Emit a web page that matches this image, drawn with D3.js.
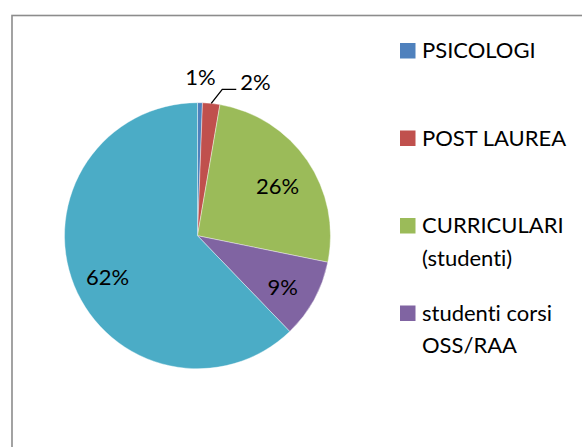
<!DOCTYPE html>
<html>
<head>
<meta charset="utf-8">
<script src="https://cdn.jsdelivr.net/npm/d3@7"></script>
<style>
  html, body { margin: 0; padding: 0; background: #fff; overflow: hidden; }
  text { font-family: Lato, "Open Sans", sans-serif; fill: #000; font-variant-ligatures: none; }
</style>
</head>
<body>
<div class="chart"></div>
<script>
var svgWidth = 582;
var svgHeight = 447;

// data
var categories = ["PSICOLOGI", "POST LAUREA", "CURRICULARI (studenti)", "studenti corsi OSS/RAA", "altro"];
var values = [0.6, 2.1, 25.5, 9.6, 62.2];
var labels = ["1%", "2%", "26%", "9%", "62%"];
var colors = ["#4F81BD", "#C0504D", "#9BBB59", "#8064A2", "#4BACC6"];
// legend lines (only the first four fit in the box)
var legendLines = [["PSICOLOGI"], ["POST LAUREA"], ["CURRICULARI", "(studenti)"], ["studenti corsi", "OSS/RAA"]];

var cx = 197.5, cy = 235.7, radius = 133;

var svg = d3.select(".chart")
  .append("svg")
  .attr("width", svgWidth)
  .attr("height", svgHeight);

// chart frame (right and bottom edges fall outside the picture)
svg.append("rect")
  .attr("x", 12)
  .attr("y", 15.5)
  .attr("width", 620)
  .attr("height", 480)
  .attr("fill", "none")
  .attr("stroke", "#8c8c8c")
  .attr("stroke-width", 1.6);

var pie = d3.pie().sort(null).value(d => d);
var arcs = pie(values);

var arc = d3.arc().innerRadius(0).outerRadius(radius);
var labelArc = d3.arc().innerRadius(radius * 0.73).outerRadius(radius * 0.73);
var edgeArc = d3.arc().innerRadius(radius).outerRadius(radius);
var outArc = d3.arc().innerRadius(radius * 1.2).outerRadius(radius * 1.2);

var pieGroup = svg.append("g")
  .attr("transform", `translate(${cx}, ${cy})`);

pieGroup.selectAll("path")
  .data(arcs)
  .enter()
  .append("path")
  .attr("d", arc)
  .attr("fill", (d, i) => colors[i])
  .attr("stroke", "#fff")
  .attr("stroke-width", 0.4);

var fontSize = 22;

// labels inside the big slices
pieGroup.selectAll("text.inside")
  .data(arcs.filter((d, i) => values[i] > 5))
  .enter()
  .append("text")
  .attr("class", "inside")
  .attr("transform", d => `translate(${labelArc.centroid(d)})`)
  .attr("text-anchor", "middle")
  .attr("dy", "0.58em")
  .style("font-size", fontSize + "px")
  .text(d => labels[d.index]);

// 1% sits straight above its slice
var a0 = arcs[0];
pieGroup.append("text")
  .attr("transform", `translate(${outArc.centroid(a0)})`)
  .attr("text-anchor", "middle")
  .attr("dy", "0.4em")
  .style("font-size", fontSize + "px")
  .text(labels[0]);

// 2% with a leader line
var a1 = arcs[1];
var p0 = edgeArc.centroid(a1);
var p1 = [p0[0] + 11, p0[1] - 14];
var p2 = [p1[0] + 14, p1[1]];
pieGroup.append("path")
  .attr("d", d3.line()([p0, p1, p2]))
  .attr("fill", "none")
  .attr("stroke", "#000")
  .attr("stroke-width", 1.3);
pieGroup.append("text")
  .attr("x", p2[0] + 4)
  .attr("y", p2[1] + 1)
  .style("font-size", fontSize + "px")
  .text(labels[1]);

// legend
var legendX = 400, legendTop = 58, legendStep = 87.5, lineGap = 32.5;
var legend = svg.append("g");
legendLines.forEach(function(lines, i) {
  var y = legendTop + i * legendStep;
  legend.append("rect")
    .attr("x", legendX)
    .attr("y", y - 15)
    .attr("width", 15.5)
    .attr("height", 15.5)
    .attr("fill", colors[i]);
  lines.forEach(function(t, j) {
    legend.append("text")
      .attr("x", legendX + 22)
      .attr("y", y + j * lineGap)
      .style("font-size", fontSize + "px")
      .text(t);
  });
});
</script>
</body>
</html>
